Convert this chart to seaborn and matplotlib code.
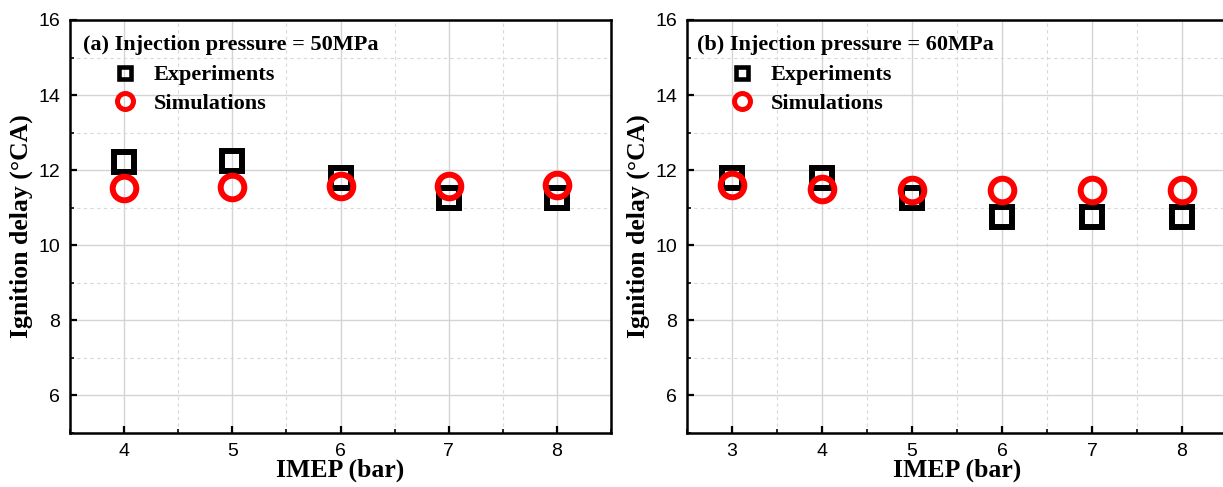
import matplotlib
matplotlib.use("Agg")
import matplotlib.pyplot as plt
from matplotlib.lines import Line2D
from matplotlib.ticker import MultipleLocator
import seaborn as sns
import pandas as pd

# Data
imep_a = [4, 5, 6, 7, 8]
exp_a = [12.22, 12.25, 11.8, 11.25, 11.25]
sim_a = [11.52, 11.55, 11.57, 11.57, 11.6]

imep_b = [3, 4, 5, 6, 7, 8]
exp_b = [11.78, 11.8, 11.25, 10.75, 10.75, 10.75]
sim_b = [11.6, 11.5, 11.48, 11.48, 11.48, 11.46]

titles = ["(a) Injection pressure = 50MPa", "(b) Injection pressure = 60MPa"]
xlabel = "IMEP (bar)"
ylabel = "Ignition delay (\u00b0CA)"
legend_labels = ["Experiments", "Simulations"]

sns.set_theme(style="white")
plt.rcParams["font.family"] = ["Liberation Sans", "DejaVu Sans"]
plt.rcParams["text.color"] = "black"
plt.rcParams["axes.labelcolor"] = "black"

fig = plt.figure(figsize=(12.23, 4.87), dpi=100)
W, H = 1223, 487
ax_a = fig.add_axes([70 / W, (H - 433) / H, 541 / W, 413 / H])
ax_b = fig.add_axes([687 / W, (H - 433) / H, 540 / W, 413 / H])

serif = "Liberation Serif"

panels = [
    (ax_a, imep_a, exp_a, sim_a, (3.5, 8.5), titles[0], 0.024),
    (ax_b, imep_b, exp_b, sim_b, (2.5, 8.5), titles[1], 0.019),
]

for ax, x, e, s, xl, title, tx in panels:
    df_e = pd.DataFrame({"x": x, "y": e})
    df_s = pd.DataFrame({"x": x, "y": s})
    sns.lineplot(data=df_e, x="x", y="y", ax=ax, linestyle="", marker="s",
                 markersize=14, markeredgewidth=4.3, markerfacecolor="none",
                 markeredgecolor="black", zorder=3)
    sns.lineplot(data=df_s, x="x", y="y", ax=ax, linestyle="", marker="o",
                 markersize=17, markeredgewidth=4.3, markerfacecolor="none",
                 markeredgecolor="#ff0000", zorder=4)
    ax.set_xlim(*xl)
    ax.set_ylim(5, 16)
    ax.xaxis.set_major_locator(MultipleLocator(1))
    ax.xaxis.set_minor_locator(MultipleLocator(0.5))
    ax.yaxis.set_major_locator(MultipleLocator(2))
    ax.yaxis.set_minor_locator(MultipleLocator(1))
    ax.set_yticks([6, 8, 10, 12, 14, 16])
    ax.grid(True, which="major", color="#d4d4d4", linewidth=1.0, linestyle="-", zorder=0)
    ax.grid(True, which="minor", color="#d8d8d8", linewidth=0.8, linestyle=(0, (3, 3)), zorder=0)
    ax.set_axisbelow(True)
    for sp in ax.spines.values():
        sp.set_visible(True)
        sp.set_color("black")
        sp.set_linewidth(1.8)
    ax.tick_params(which="major", direction="in", length=5, width=1.6, labelsize=14,
                   colors="black", pad=7, left=True, bottom=True)
    ax.tick_params(which="minor", direction="in", length=3, width=1.4,
                   left=True, bottom=True)
    ax.set_xlabel(xlabel, fontfamily=serif, fontweight="bold", fontsize=18.5,
                  labelpad=-1, color="black")
    ax.set_ylabel(ylabel, fontfamily=serif, fontweight="bold", fontsize=18.5,
                  labelpad=4, color="black")
    ax.text(tx, 0.94, title, transform=ax.transAxes, fontfamily=serif,
            fontweight="bold", fontsize=16, ha="left", va="center", color="black")
    handles = [
        Line2D([], [], linestyle="", marker="s", markersize=9, markeredgewidth=3.3,
               markerfacecolor="none", markeredgecolor="black"),
        Line2D([], [], linestyle="", marker="o", markersize=11.5, markeredgewidth=3.6,
               markerfacecolor="none", markeredgecolor="#ff0000"),
    ]
    leg = ax.legend(handles, legend_labels, loc="upper left", bbox_to_anchor=(0.0695, 0.902),
                    frameon=False, prop={"family": serif, "weight": "bold", "size": 16},
                    handlelength=1.2, handletextpad=0.68, labelspacing=0.35, borderpad=0.2,
                    borderaxespad=0)
    for t in leg.get_texts():
        t.set_color("black")

fig.savefig("out.png", dpi=100)
